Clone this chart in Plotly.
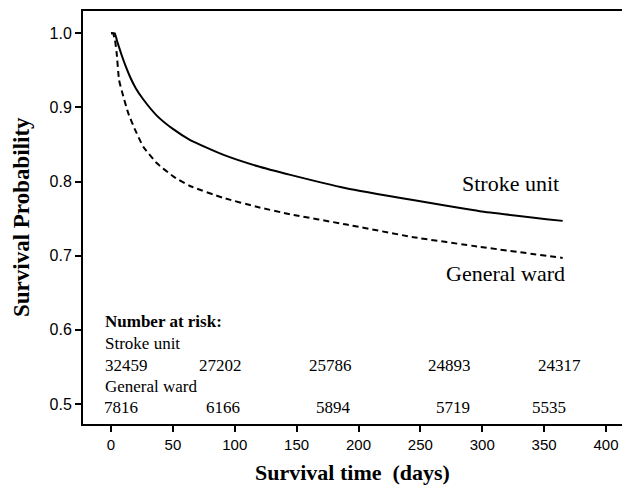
import plotly.graph_objects as go

# ---- data ----
stroke_days = [0, 3, 5, 8.5, 12, 16, 20, 26, 37, 50, 64, 91, 118, 145, 190, 244, 298, 365]
stroke_surv = [1.0, 1.0, 0.989, 0.971, 0.955, 0.939, 0.926, 0.911, 0.889, 0.871, 0.856, 0.836, 0.821, 0.809, 0.791, 0.775, 0.760, 0.747]

ward_days = [0, 1.6, 3.2, 4.6, 6.5, 9.9, 14, 19.4, 26.1, 36.9, 50.3, 63.8, 90.7, 117.7, 144.6, 190.5, 244.3, 298, 365]
ward_surv = [1.0, 1.0, 0.991, 0.973, 0.937, 0.915, 0.892, 0.870, 0.847, 0.825, 0.807, 0.794, 0.778, 0.766, 0.756, 0.742, 0.725, 0.712, 0.697]

x_ticks = [0, 50, 100, 150, 200, 250, 300, 350, 400]
y_ticks = [0.5, 0.6, 0.7, 0.8, 0.9, 1.0]

risk_stroke = ["32459", "27202", "25786", "24893", "24317"]
risk_ward = ["7816", "6166", "5894", "5719", "5535"]

# ---- layout constants (pixels) ----
W, H = 622, 489
L, R, T, B = 83, 0, 11, 65
PW, PH = W - L - R, H - T - B

def px(xp):
    return (xp - L) / PW

def py(yp):
    return (H - B - yp) / PH

SERIF = "Liberation Serif, Times New Roman, serif"
SANS = "Liberation Sans, Arial, sans-serif"

fig = go.Figure()
fig.add_trace(go.Scatter(x=stroke_days, y=stroke_surv, mode="lines",
                         line=dict(color="black", width=2, shape="spline", smoothing=0.4),
                         showlegend=False, name="Stroke unit", hoverinfo="skip"))
fig.add_trace(go.Scatter(x=ward_days, y=ward_surv, mode="lines",
                         line=dict(color="black", width=2, dash="6px,4px", shape="spline", smoothing=0.4),
                         showlegend=False, name="General ward", hoverinfo="skip"))

ann = []
# curve labels
ann.append(dict(text="Stroke unit", x=px(561), y=py(183), xanchor="right", yanchor="middle",
                font=dict(family=SERIF, size=22, color="black")))
ann.append(dict(text="General ward", x=px(567), y=py(273), xanchor="right", yanchor="middle",
                font=dict(family=SERIF, size=22, color="black")))

# number at risk table
tfont = dict(family=SERIF, size=17, color="black")
ann.append(dict(text="<b>Number at risk:</b>", x=px(103), y=py(321), xanchor="left", yanchor="middle", font=tfont))
ann.append(dict(text="Stroke unit", x=px(103), y=py(343), xanchor="left", yanchor="middle", font=tfont))
ann.append(dict(text="General ward", x=px(103), y=py(386), xanchor="left", yanchor="middle", font=tfont))

col_stroke = [126, 220, 330, 449, 559]
col_ward = [121, 223, 333, 453, 549]
for v, c in zip(risk_stroke, col_stroke):
    ann.append(dict(text=v, x=px(c), y=py(365), xanchor="center", yanchor="middle", font=tfont))
for v, c in zip(risk_ward, col_ward):
    ann.append(dict(text=v, x=px(c), y=py(407), xanchor="center", yanchor="middle", font=tfont))

# axis titles
ann.append(dict(text="<b>Survival time \u00a0(days)</b>", x=px(352), y=py(473), xanchor="center", yanchor="middle",
                font=dict(family=SERIF, size=22, color="black")))
ann.append(dict(text="<b>Survival Probability</b>", x=px(21), y=py(217), xanchor="center", yanchor="middle",
                textangle=-90, font=dict(family=SERIF, size=23, color="black")))

for a in ann:
    a.update(xref="paper", yref="paper", showarrow=False)

fig.update_layout(
    width=W, height=H,
    margin=dict(l=L, r=R, t=T, b=B, pad=0),
    paper_bgcolor="white", plot_bgcolor="white",
    annotations=ann,
    hovermode=False,
    xaxis=dict(range=[-(111 - L) / 1.2375, (W - 111) / 1.2375],
               tickvals=x_ticks, ticks="outside", ticklen=6, tickwidth=1.5, tickcolor="black",
               showline=True, linecolor="black", linewidth=2, mirror=True,
               showgrid=False, zeroline=False,
               tickfont=dict(family=SANS, size=15, color="black")),
    yaxis=dict(range=[0.5 - (H - B - 404) / 742, 1.0 + (33.3 - T) / 742],
               tickvals=y_ticks, ticktext=[f"{v:.1f}" for v in y_ticks],
               ticks="outside", ticklen=6, tickwidth=1.5, tickcolor="black",
               showline=True, linecolor="black", linewidth=2, mirror=False,
               showgrid=False, zeroline=False,
               tickfont=dict(family=SANS, size=16, color="black")),
)

fig.write_html("out.html", config={"displayModeBar": False},
               post_script="document.body.style.margin='0';document.body.style.overflow='hidden';")
